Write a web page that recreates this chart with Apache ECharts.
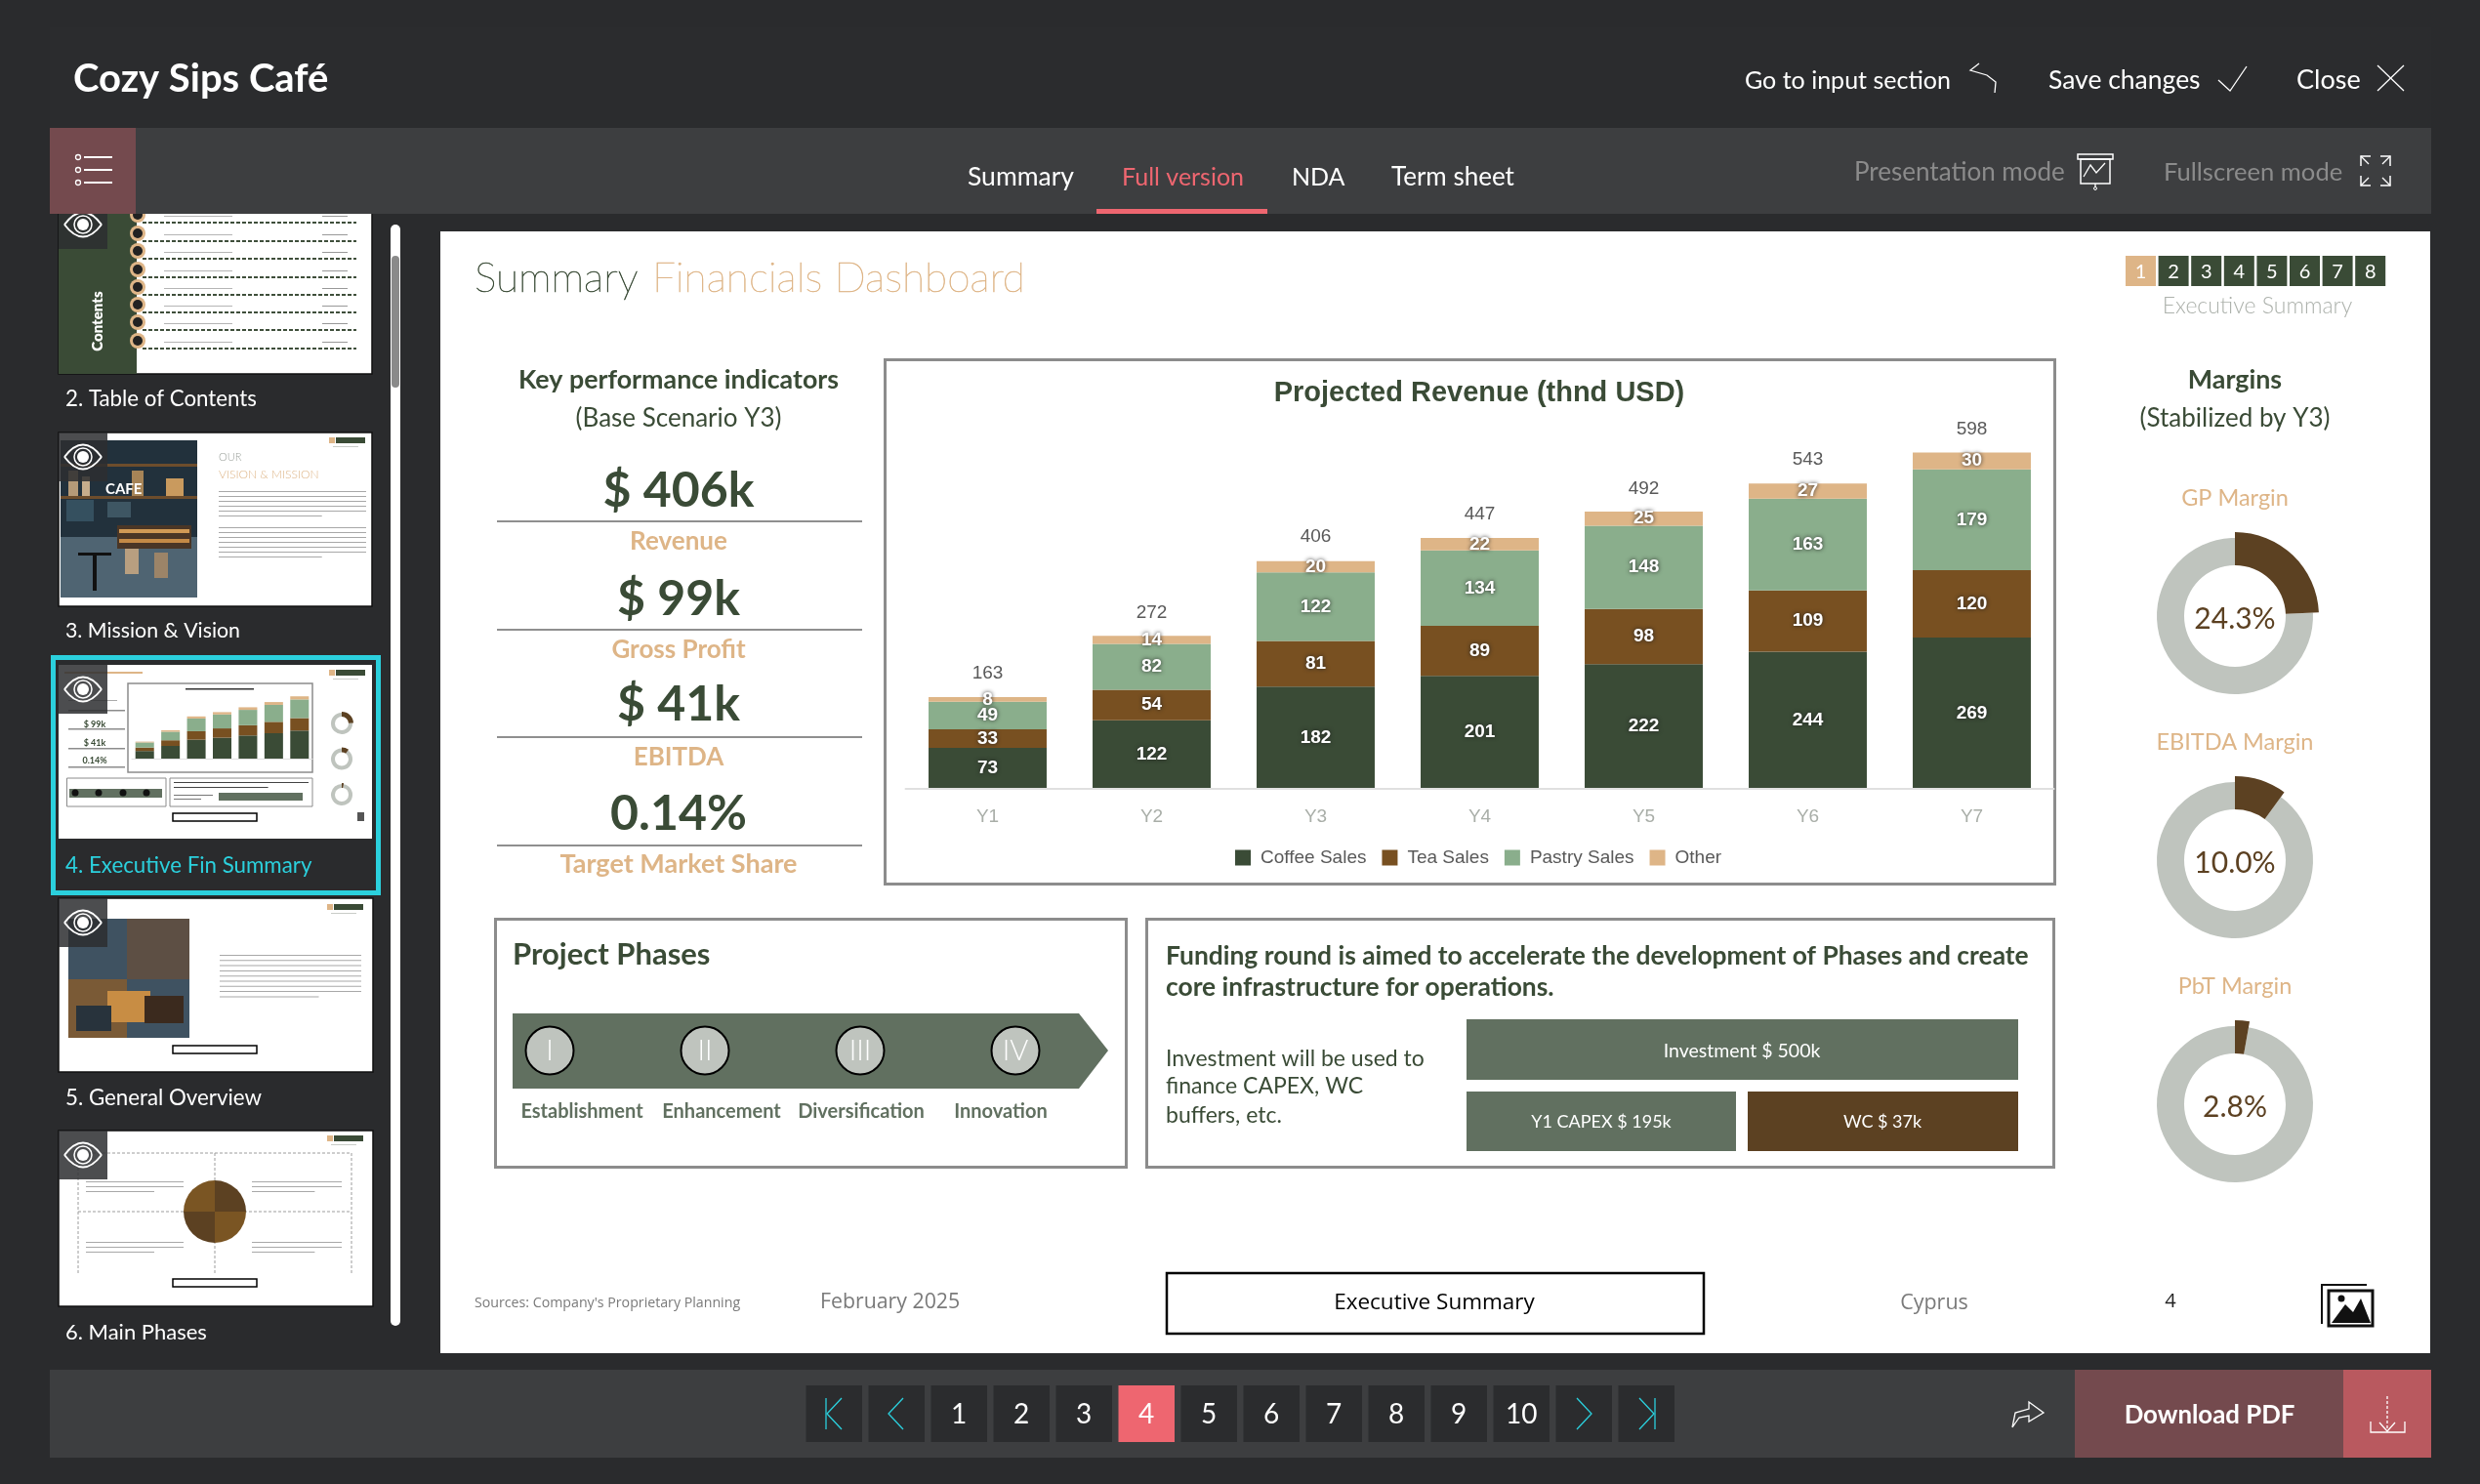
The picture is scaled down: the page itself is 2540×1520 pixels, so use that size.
<!DOCTYPE html>
<html>
<head>
<meta charset="utf-8">
<title>Cozy Sips Café</title>
<script src="https://cdn.jsdelivr.net/npm/echarts@6/dist/echarts.min.js"></script>
<style>
html,body{margin:0;padding:0;background:#2a2b2d;}
#main{width:2540px;height:1520px;}
</style>
</head>
<body>
<div id="main"></div>
<script>
// chart data
var years = ['Y1','Y2','Y3','Y4','Y5','Y6','Y7'];
var coffee = [73,122,182,201,222,244,269];
var tea = [33,54,81,89,98,109,120];
var pastry = [49,82,122,134,148,163,179];
var other = [8,14,20,22,25,27,30];
var totals = [163,272,406,447,492,543,598];
var marginNames = ['GP Margin','EBITDA Margin','PbT Margin'];
var marginValues = [24.3,10.0,2.8];
var kpiValues = ['$ 406k','$ 99k','$ 41k','0.14%'];
var kpiLabels = ['Revenue','Gross Profit','EBITDA','Target Market Share'];
var phaseMarks = ['I','II','III','IV'];
var phaseNames = ['Establishment','Enhancement','Diversification','Innovation'];
var slideNames = ['2. Table of Contents','3. Mission & Vision','4. Executive Fin Summary','5. General Overview','6. Main Phases'];
var pages = ['1','2','3','4','5','6','7','8','9','10'];
var sectionPages = ['1','2','3','4','5','6','7','8'];

var GREEN='#3a4b36', BROWN='#785021', SAGE='#8aae8c', TAN='#deb587', DBROWN='#5c4122', GREY='#bfc4be', PHASE='#617060', PANEL='#3d3e40', DARK='#2b2c2e', ROSE='#744a4e', RED='#ee6670', CYAN='#2bd0dd';
var UI='Lato, sans-serif';
var els=[];

function R(x,y,w,h,fill,stroke,lw,r){
  els.push({type:'rect',silent:true,z:1,shape:{x:x,y:y,width:w,height:h,r:r||0},style:{fill:fill||'none',stroke:stroke||'none',lineWidth:lw||0}});
}
function T(text,x,y,font,color,align,rot,thin){
  var e={type:'text',silent:true,z:1,style:{text:text,x:x,y:y+1.5,font:font,fill:color,textAlign:align||'left',textVerticalAlign:'middle'}};
  if(rot){ e.style.x=0; e.style.y=0; e.x=x; e.y=y; e.rotation=rot; }
  if(thin){ e.style.stroke=color; e.style.lineWidth=thin; }
  els.push(e);
}
function L(pts,color,lw,dash){
  els.push({type:'polyline',silent:true,z:1,shape:{points:pts},style:{fill:'none',stroke:color,lineWidth:lw||1,lineDash:dash||null}});
}
function C(x,y,r,fill,stroke,lw){
  els.push({type:'circle',silent:true,z:1,shape:{cx:x,cy:y,r:r},style:{fill:fill||'none',stroke:stroke||'none',lineWidth:lw||0}});
}
function P(pts,fill){
  els.push({type:'polygon',silent:true,z:1,shape:{points:pts},style:{fill:fill}});
}
function S(x,y,r,a0,a1,fill){
  els.push({type:'sector',silent:true,z:1,shape:{cx:x,cy:y,r:r,r0:0,startAngle:a0,endAngle:a1},style:{fill:fill}});
}
function eye(x,y){
  R(x,y,50,50,'rgba(45,46,48,0.85)');
  var cx=x+25, cy=y+25;
  els.push({type:'bezierCurve',silent:true,z:1,shape:{x1:cx-19,y1:cy,x2:cx+19,y2:cy,cpx1:cx,cpy1:cy-25},style:{fill:'none',stroke:'#fff',lineWidth:2}});
  els.push({type:'bezierCurve',silent:true,z:1,shape:{x1:cx-19,y1:cy,x2:cx+19,y2:cy,cpx1:cx,cpy1:cy+25},style:{fill:'none',stroke:'#fff',lineWidth:2}});
  C(cx,cy,6,'#fff');
  C(cx,cy,9,null,'#fff',1.5);
}
// greeked paragraph for the thumbnails
function lines(x,y,w,n,step,color){
  for(var i=0;i<n;i++){ R(x,y+i*step,i==n-1?w*0.7:w,1,color||'#a8a8a8'); }
}
function miniPager(x,y){
  R(x,y,6,6,TAN);
  R(x+7,y,30,6,GREEN);
  R(x+4,y+9,26,1,'#c9ccc8');
}

// sidebar: slide 2, its top is cut by the tab bar
R(60,205,321,178,'#fff','#111',1.5);
R(60,205,80,178,GREEN);
eye(60,205);
T('Contents',100,329,'800 15px '+UI,'#fff','center',Math.PI/2);
[228,247,265,284,302,320,338,357].forEach(function(y){
  L([[146,y],[365,y]],'#3f4f3b',2,[4,2]);
  C(141,y-8,8,TAN); C(141,y-8,5,'#222');
  R(168,y-7,70,1,'#b5b5b5'); R(330,y-7,26,1,'#999');
});

// window chrome
R(51,28,2439,103,DARK);
R(51,131,2439,88,PANEL);
R(51,131,88,88,ROSE);
[161,174,187].forEach(function(y){ C(80,y,2.5,null,'#fff',1.3); R(86,y-1,29,2,'#fff'); });
T('Cozy Sips Café',75,80,'700 40px '+UI,'#fff');
T('Go to input section',1787,81,'400 25px '+UI,'#fff');
L([[2027,65],[2018,72],[2035,77],[2044,84],[2043,95]],'#fff',1.3);
T('Save changes',2098,81,'400 26.5px '+UI,'#fff');
L([[2272,82],[2284,93],[2301,68]],'#fff',1.3);
T('Close',2352,81,'400 27px '+UI,'#fff');
L([[2435,67],[2462,93]],'#fff',1.3);
L([[2462,67],[2435,93]],'#fff',1.3);
T('Summary',991,180,'400 26.5px '+UI,'#fff');
T('Full version',1149,180,'400 25px '+UI,RED);
T('NDA',1323,180,'400 25px '+UI,'#fff');
T('Term sheet',1425,180,'400 26px '+UI,'#fff');
R(1123,214,175,5,RED);
T('Presentation mode',1899,175,'400 26px '+UI,'#8b8b8b');
R(2128,158,36,5,null,'#fff',1.5);
R(2131,163,30,25,null,'#fff',1.5);
L([[2134,181],[2141,169],[2147,177],[2156,167]],'#fff',1.3);
L([[2146,188],[2146,192]],'#fff',1.3);
C(2146,193,1.5,null,'#fff',1);
T('Fullscreen mode',2216,175,'400 25.6px '+UI,'#8b8b8b');
L([[2418,170],[2418,160],[2428,160]],'#fff',1.5); L([[2418,160],[2426,168]],'#fff',1.3);
L([[2438,160],[2448,160],[2448,170]],'#fff',1.5); L([[2448,160],[2440,168]],'#fff',1.3);
L([[2418,180],[2418,190],[2428,190]],'#fff',1.5); L([[2418,190],[2426,182]],'#fff',1.3);
L([[2438,190],[2448,190],[2448,180]],'#fff',1.5); L([[2448,190],[2440,182]],'#fff',1.3);

// slide 3
R(60,443,321,178,'#fff','#111',1.5);
R(62,451,140,161,'#22313c');
R(62,550,140,62,'#4f6472');
R(62,475,140,3,'#6d4d2c'); R(62,508,140,3,'#6d4d2c');
R(70,482,10,26,'#b59a78'); R(84,488,8,20,'#c7ad8c'); R(135,482,12,26,'#a68457'); R(170,490,18,18,'#c99a5e');
R(68,512,28,22,'#35505f'); R(110,514,24,16,'#3e5663');
R(120,538,76,24,'#4a3626'); R(122,542,72,4,'#d19a55'); R(122,552,72,4,'#c48a46');
R(80,566,34,3,'#111'); R(95,569,4,36,'#111'); R(128,562,14,26,'#b89f80'); R(158,566,14,26,'#9c8468');
T('CAFE',108,500,'700 15px '+UI,'#fff');
T('OUR',224,467,'300 11px '+UI,'#9aa09a');
T('VISION & MISSION',224,485,'300 12px '+UI,TAN);
lines(224,503,151,6,5); lines(224,540,151,7,5);
miniPager(337,448);
eye(60,443);
// slide 4, selected
R(54.5,673.5,333,241,null,CYAN,5);
R(60,681,321,178,'#fff');
R(131,700,189,91,null,'#8c8c8c',1.5);
R(68.5,797,101.5,29,null,'#8c8c8c',1);
R(174,797,146,29,null,'#8c8c8c',1);
R(71,808,95,9,PHASE);
[77,101,126,150].forEach(function(x){ C(x,812,3.5,'#111'); });
lines(178,801,138,2,5,'#444');
R(224,812,86,8,PHASE);
lines(178,814,40,2,4,'#777');
R(177,833,86,8,null,'#000',1.5);
T('$ 99k',97,741,'700 9px '+UI,GREEN,'center');
T('$ 41k',97,760,'700 9px '+UI,GREEN,'center');
T('0.14%',97,778,'700 9px '+UI,GREEN,'center');
[727,746,766,785].forEach(function(y){ R(70,y,58,1.5,'#8c8c8c'); });
R(70,717,50,1,'#aaa');
R(190,705,70,1.5,'#333');
R(66,688,80,2,TAN);
miniPager(337,686);
R(366,832,7,9,'#555');
eye(60,681);
// slide 5
R(60,920,322,178,'#fff','#111',1.5);
R(70,941,124,122,'#3f5261');
R(70,1003,60,60,'#7a5a36'); R(130,941,64,62,'#5d4f44'); R(110,1015,44,32,'#c88d44'); R(78,1030,36,26,'#28333c'); R(148,1020,40,28,'#3b2a1e');
lines(225,978,145,9,5.3);
miniPager(335,926);
R(177,1071,86,8,null,'#000',1.5);
eye(60,920);
// slide 6
R(60,1158,322,180,'#fff','#111',1.5);
L([[80,1181],[360,1181]],'#9c9c9c',1,[3,2]);
L([[80,1241],[360,1241]],'#9c9c9c',1,[3,2]);
L([[220,1181],[220,1305]],'#9c9c9c',1,[3,2]);
L([[80,1181],[80,1305]],'#9c9c9c',1,[3,2]);
L([[360,1181],[360,1305]],'#9c9c9c',1,[3,2]);
S(220,1241,32,0,Math.PI/2,'#7a5523');
S(220,1241,32,Math.PI/2,Math.PI,'#5c4122');
S(220,1241,32,Math.PI,Math.PI*1.5,'#7a5523');
S(220,1241,32,Math.PI*1.5,Math.PI*2,'#5c4122');
lines(88,1210,100,3,5); lines(258,1210,92,3,5);
lines(88,1272,100,3,5); lines(258,1272,92,3,5);
miniPager(335,1163);
R(177,1310,86,8,null,'#000',1.5);
eye(60,1158);
T(slideNames[0],67,407,'400 22.3px '+UI,'#fff');
T(slideNames[1],67,645,'400 21.3px '+UI,'#fff');
T(slideNames[2],67,885,'400 22.3px '+UI,CYAN);
T(slideNames[3],67,1123,'400 22.3px '+UI,'#fff');
T(slideNames[4],67,1363,'400 22px '+UI,'#fff');
// scrollbar
R(400,230,10,1128,'#fff',null,0,5);
R(401,262,8,135,'#8a8a8a',null,0,4);

// slide
R(451,237,2038,1149,'#fff');
T('Summary',486,284,'100 42.5px '+UI,GREEN,'left',0,0.6);
T('Financials Dashboard',668,284,'100 42.5px '+UI,TAN,'left',0,0.6);
sectionPages.forEach(function(p,i){
  var x=2177+i*33.6;
  R(x,262,31,31,i==0?TAN:GREEN);
  T(p,x+15.5,277,'400 20px '+UI,'#fff','center');
});
T('Executive Summary',2312,312,'300 23px '+UI,'#adb2ac','center');

// KPI column
T('Key performance indicators',695,388,'700 26.8px '+UI,GREEN,'center');
T('(Base Scenario Y3)',695,427,'400 26px '+UI,GREEN,'center');
var kpiY=[501,612,720,832], kpiLine=[533,644,754,865], kpiLab=[553,664,774,884];
kpiValues.forEach(function(v,i){
  T(v,695,kpiY[i],'700 50px '+UI,GREEN,'center');
  R(509,kpiLine[i],374,2,'#8f8f8f');
  T(kpiLabels[i],695,kpiLab[i],(i==3?'700 27px ':'700 26px ')+UI,TAN,'center');
});

// chart box
R(906.5,368.5,1198,537,null,'#8c8c8c',3);
T('Projected Revenue (thnd USD)',1515,401,'700 29px "Liberation Sans"',GREEN,'center');

// project phases
R(507.5,941.5,646,254,null,'#8c8c8c',3);
T('Project Phases',525,976,'700 31px '+UI,GREEN);
P([[525,1038],[1105,1038],[1135,1076],[1105,1115],[525,1115]],PHASE);
var phaseX=[563,722,881,1040], phaseText=[596,739,882,1025];
phaseMarks.forEach(function(m,i){
  C(phaseX[i],1076,24.5,GREY,'#000',2);
  T(m,phaseX[i],1075,'300 29px '+UI,'#fff','center');
  T(phaseNames[i],phaseText[i],1137,'700 20px '+UI,PHASE,'center');
});

// funding box
R(1174.5,941.5,929,254,null,'#8c8c8c',3);
T('Funding round is aimed to accelerate the development of Phases and create',1194,978,'700 26.4px '+UI,GREEN);
T('core infrastructure for operations.',1194,1010,'700 26.4px '+UI,GREEN);
T('Investment will be used to',1194,1083,'400 23px '+UI,GREEN);
T('finance CAPEX, WC',1194,1111,'400 23px '+UI,GREEN);
T('buffers, etc.',1194,1141,'400 23px '+UI,GREEN);
R(1502,1044,565,62,PHASE);
T('Investment $ 500k',1784,1075,'400 19.5px '+UI,'#fff','center');
R(1502,1118,276,61,PHASE);
T('Y1 CAPEX $ 195k',1640,1148,'400 18px '+UI,'#fff','center');
R(1790,1118,277,61,DBROWN);
T('WC $ 37k',1928,1148,'400 18px '+UI,'#fff','center');

// margins column
T('Margins',2289,388,'700 26.8px '+UI,GREEN,'center');
T('(Stabilized by Y3)',2289,427,'400 26px '+UI,GREEN,'center');
var marginY=[631,881,1131], marginTitleY=[509,759,1009];
marginNames.forEach(function(n,i){ T(n,2289,marginTitleY[i],'400 23.5px '+UI,TAN,'center'); });

// footer
T("Sources: Company's Proprietary Planning",486,1333,'400 14.2px "Open Sans"','#7a7a7a');
T('February 2025',840,1332,'400 21.3px "Open Sans"','#7a7a7a');
R(1195,1304,550,62,null,'#000',2.5);
T('Executive Summary',1469,1333,'400 22.5px "Open Sans"','#000','center');
T('Cyprus',1981,1333,'400 21.5px "Open Sans"','#7a7a7a','center');
T('4',2223,1332,'400 20px "Open Sans"','#222','center');
L([[2378,1356],[2378,1316],[2424,1316]],'#111',2);
R(2385,1322,45,36,null,'#111',3);
P([[2388,1355],[2402,1336],[2410,1344],[2418,1330],[2428,1355]],'#111');
C(2398,1330,3.5,'#111');

// bottom bar
R(51,1403,2439,90,PANEL);
var cellX=825.5;
for(var c=0;c<14;c++){
  var cx=cellX+c*64;
  R(cx,1419,57.5,58,(c==5)?RED:DARK);
  if(c>=2 && c<12){ T(pages[c-2],cx+28.7,1447,'400 28px '+UI,'#fff','center'); }
}
L([[846,1432],[846,1464]],CYAN,1.3);
L([[862,1432],[847,1448],[862,1464]],CYAN,1.3);
L([[925,1432],[910,1448],[925,1464]],CYAN,1.3);
L([[1615,1432],[1630,1448],[1615,1464]],CYAN,1.3);
L([[1679,1432],[1694,1448],[1679,1464]],CYAN,1.3);
L([[1695,1432],[1695,1464]],CYAN,1.3);
L([[2061,1462],[2064,1447],[2078,1443],[2078,1436],[2093,1447],[2078,1456],[2078,1450],[2068,1452],[2061,1462]],'#fff',1.3);
R(2125,1403,275,90,ROSE);
R(2400,1403,90,90,'#b9595f');
T('Download PDF',2263,1448,'700 25.8px '+UI,'#fff','center');
L([[2445,1430],[2445,1466]],'#fff',1.3,[3,2]);
L([[2437,1457],[2445,1466],[2453,1457]],'#fff',1.3);
L([[2428,1456],[2428,1467],[2463,1467],[2463,1456]],'#fff',1.3);

// series
function barSeries(name,data,color,grid,showLabel){
  return {
    name:name,type:'bar',stack:'rev'+grid,xAxisIndex:grid,yAxisIndex:grid,barWidth:'72%',
    itemStyle:{color:color},silent:true,
    label:{show:showLabel,position:'inside',color:'#fff',fontFamily:'Liberation Sans',fontWeight:'bold',fontSize:19,textShadowColor:'#222',textShadowBlur:4},
    data:data};
}
var series=[
  barSeries('Coffee Sales',coffee,GREEN,0,true),
  barSeries('Tea Sales',tea,BROWN,0,true),
  barSeries('Pastry Sales',pastry,SAGE,0,true),
  barSeries('Other',other,TAN,0,true),
  {type:'line',name:'Total',data:totals,xAxisIndex:0,yAxisIndex:0,symbol:'circle',symbolSize:1,showAllSymbol:true,silent:true,clip:false,
   itemStyle:{color:'rgba(0,0,0,0)'},lineStyle:{color:'rgba(0,0,0,0)'},z:5,
   label:{show:true,position:'top',distance:14,color:'#595959',fontFamily:'Liberation Sans',fontSize:19}},
  barSeries('m1',coffee,GREEN,1,false),
  barSeries('m2',tea,BROWN,1,false),
  barSeries('m3',pastry,SAGE,1,false),
  barSeries('m4',other,TAN,1,false)
];
function donut(i,cx,cy,inner,outer,wedge,withLabel){
  var v=marginValues[i];
  series.push({type:'pie',silent:true,center:[cx,cy],radius:[inner,outer],startAngle:90,label:{show:false},labelLine:{show:false},animation:false,
    data:[{value:v,itemStyle:{color:'rgba(0,0,0,0)'}},{value:100-v,itemStyle:{color:GREY}}]});
  series.push({type:'pie',silent:true,center:[cx,cy],radius:[inner,wedge],startAngle:90,labelLine:{show:false},animation:false,
    label:{show:false},
    data:[{value:v,itemStyle:{color:DBROWN},
      label:{show:withLabel,position:'center',offset:[0,3],formatter:v.toFixed(1)+'%',color:DBROWN,fontFamily:'Lato',fontSize:30}},
      {value:100-v,itemStyle:{color:'rgba(0,0,0,0)'}}]});
}
marginValues.forEach(function(v,i){
  donut(i,2289,marginY[i],52,80,86,true);
  donut(i,350,[741,777.5,814][i],7,11,12,false);
});

var myChart = echarts.init(document.getElementById('main'));
var option = {
  backgroundColor:'#2a2b2d',
  animation:false,
  textStyle:{fontFamily:'Liberation Sans'},
  graphic:{elements:els},
  legend:{left:1260,top:864,data:['Coffee Sales','Tea Sales','Pastry Sales','Other'],icon:'rect',itemWidth:16,itemHeight:16,itemGap:16,
    selectedMode:false,textStyle:{color:'#595959',fontSize:19,fontFamily:'Liberation Sans',padding:[0,0,0,5]}},
  grid:[
    {left:927.5,top:462.4,width:1176,height:345.6},
    {left:135,top:713,width:185,height:64}
  ],
  xAxis:[
    {type:'category',data:years,gridIndex:0,z:5,axisTick:{show:false},axisLine:{lineStyle:{color:'#e0e0e0',width:2}},
     axisLabel:{color:'#a9aea8',fontSize:19,margin:19,fontFamily:'Liberation Sans'}},
    {type:'category',data:years,gridIndex:1,z:5,axisTick:{show:false},axisLine:{lineStyle:{color:'#e0e0e0',width:1}},axisLabel:{show:false}}
  ],
  yAxis:[
    {type:'value',gridIndex:0,min:0,max:600,show:false},
    {type:'value',gridIndex:1,min:0,max:600,show:false}
  ],
  series:series
};
myChart.setOption(option);
</script>
</body>
</html>
